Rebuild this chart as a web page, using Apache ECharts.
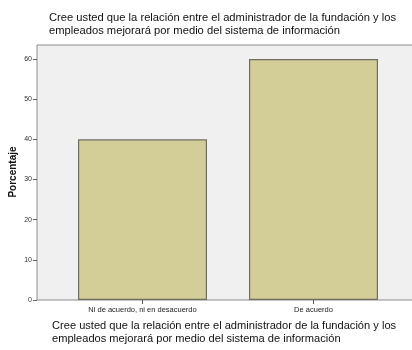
<!DOCTYPE html>
<html>
<head>
<meta charset="utf-8">
<script src="https://cdn.jsdelivr.net/npm/echarts@6/dist/echarts.min.js"></script>
<style>
  html, body { margin: 0; padding: 0; background: #ffffff; }
  #chart { width: 412px; height: 350px; }
</style>
</head>
<body>
<div id="chart"></div>
<script>
// Survey question and answers
const questionText = 'Cree usted que la relación entre el administrador de la fundación y los\nempleados mejorará por medio del sistema de información';
const yAxisTitle = 'Porcentaje';
const categories = ['Ni de acuerdo, ni en desacuerdo', 'De acuerdo'];
const percentages = [40, 60];
const yTicks = { min: 0, max: 63.5, interval: 10 };

const chart = echarts.init(document.getElementById('chart'), null, { renderer: 'canvas' });

const textFont = 'Liberation Sans, Arial, sans-serif';

chart.setOption({
  backgroundColor: '#ffffff',
  animation: false,
  title: {
    text: questionText,
    left: 44,
    top: 6,
    textStyle: {
      fontFamily: textFont,
      fontSize: 11.2,
      fontWeight: 'normal',
      color: '#111',
      lineHeight: 13
    }
  },
  graphic: [
    {
      // horizontal axis title below the plot
      type: 'text',
      left: 52,
      top: 319,
      style: {
        text: questionText,
        font: '11.1px ' + textFont,
        fill: '#111',
        lineHeight: 13
      }
    },
    {
      // vertical axis title
      type: 'text',
      x: 13,
      y: 172,
      rotation: Math.PI / 2,
      style: {
        text: yAxisTitle,
        font: 'bold 10px ' + textFont,
        fill: '#111',
        align: 'center',
        verticalAlign: 'middle'
      }
    }
  ],
  grid: [
    // plot frame and background (runs past the right edge)
    { left: 37, top: 45, width: 400, bottom: 50, show: true, outerBoundsMode: 'none',
      backgroundColor: '#f0f0f0', borderColor: '#8c8c8c', borderWidth: 1 },
    // data area
    { left: 57, top: 45, right: 13, bottom: 50, outerBoundsMode: 'none' }
  ],
  xAxis: [
    { gridIndex: 0, type: 'value', show: false, min: 0, max: 1 },
    {
      gridIndex: 1,
      type: 'category',
      data: categories,
      axisLine: { show: false },
      axisTick: { show: true, alignWithLabel: true, length: 4, lineStyle: { color: '#555' } },
      axisLabel: {
        fontFamily: textFont,
        fontSize: 7.5,
        color: '#222',
        margin: 6
      }
    }
  ],
  yAxis: [
    { gridIndex: 0, type: 'value', show: false, min: 0, max: 1 },
    {
      gridIndex: 1,
      type: 'value',
      min: yTicks.min,
      max: yTicks.max,
      interval: yTicks.interval,
      offset: 20,
      axisLine: { show: false },
      axisTick: { show: true, length: 4, lineStyle: { color: '#666' } },
      axisLabel: {
        fontFamily: textFont,
        fontSize: 7,
        color: '#333',
        margin: 5,
        showMaxLabel: false
      },
      splitLine: { show: false }
    }
  ],
  series: [{
    type: 'bar',
    xAxisIndex: 1,
    yAxisIndex: 1,
    data: percentages,
    barWidth: 129,
    itemStyle: {
      color: '#d3cd97',
      borderColor: '#6f6e60',
      borderWidth: 1.2
    }
  }]
});
</script>
</body>
</html>
